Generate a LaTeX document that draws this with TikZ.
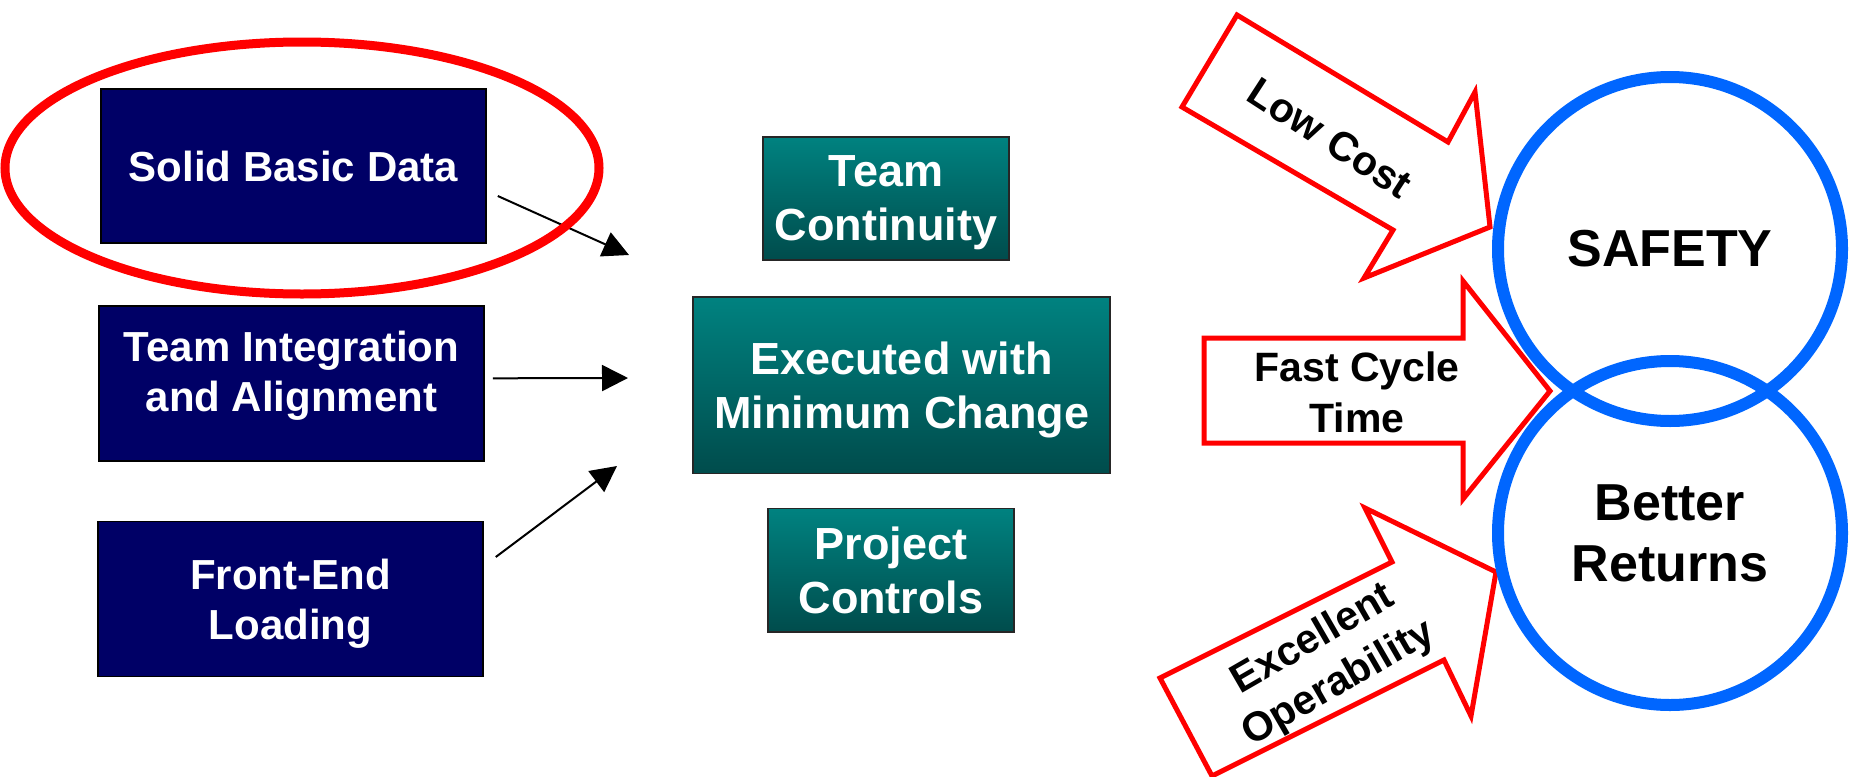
\documentclass[tikz,border=0pt]{standalone}
\usepackage{fontspec}
\setmainfont{Liberation Sans}
\usetikzlibrary{arrows.meta}
\definecolor{navybox}{RGB}{0,0,102}
\definecolor{tealtop}{RGB}{0,130,128}
\definecolor{tealbot}{RGB}{0,76,76}
\definecolor{arrowred}{RGB}{255,0,0}
\definecolor{ringblue}{RGB}{0,102,255}
\tikzset{
  navy/.style={rectangle, draw=black, line width=0.8pt, fill=navybox, text=white,
    font=\bfseries\fontsize{21}{25}\selectfont, align=center,
    minimum width=192.5pt, minimum height=77.5pt, inner sep=0pt},
  tealbox/.style={rectangle, draw=black!85, line width=0.8pt, top color=tealtop,
    bottom color=tealbot, text=white, font=\bfseries\fontsize{22.5}{26.8}\selectfont,
    align=center, inner sep=0pt, text depth=0pt},
  feed/.style={line width=1pt, -{Triangle[length=13pt,width=13pt]}},
  blockarrow/.style={draw=arrowred, line width=2.5pt, fill=white, line join=miter},
  arrowtext/.style={font=\bfseries\fontsize{20.5}{25.5}\selectfont, align=center, inner sep=0pt},
  ring/.style={circle, draw=ringblue, line width=6pt, minimum size=172pt, inner sep=0pt,
    font=\bfseries\fontsize{26}{30.5}\selectfont, align=center},
  highlight/.style={draw=arrowred, line width=4.5pt}
}
\begin{document}
\begin{tikzpicture}[x=0.5pt,y=-0.5pt]
\useasboundingbox (0,0) rectangle (1857,776);

% left column
\node[navy, minimum height=77pt] (b1) at (293.5,166) {Solid Basic Data};
\node[navy] (b2) at (291.5,383.3) {};
\node[text=white, font=\bfseries\fontsize{21}{25}\selectfont, align=center, inner sep=0pt]
  (b2t) at ([yshift=4pt]b2.center) {Team Integration\\and Alignment};
\node[navy, text depth=0pt] (b3) at (290.5,599) {Front-End\\Loading};

% middle column
\node[tealbox, minimum width=123pt, minimum height=61.6pt] (tc) at (886,198.3) {Team\\Continuity};
\node[tealbox, minimum width=208.5pt, minimum height=88.3pt] (ex) at (901.7,385) {Executed with\\Minimum Change};
\node[tealbox, minimum width=123pt, minimum height=61.7pt] (pc) at (891,570) {Project\\Controls};

% feed arrows
\coordinate (s1) at ([shift={(11,30)}]b1.east);
\coordinate (s2) at ([shift={(8,-5)}]b2.east);
\coordinate (s3) at ([shift={(12,-42)}]b3.east);
\coordinate (e1) at (629,255);
\coordinate (e2) at (628,378);
\coordinate (e3) at (617,466);
\draw[feed] (s1) -- (e1);
\draw[feed] (s2) -- (e2);
\draw[feed] (s3) -- (e3);

% red highlight ellipse
\draw[highlight] (302,168) ellipse [x radius=297, y radius=126];

% block arrows
\draw[blockarrow] (1237,15) -- (1448,142) -- (1475,92) -- (1490,227) -- (1364,278) -- (1393,230) -- (1182,107) -- cycle;
\node[arrowtext, rotate=-33] (lc) at (1330,138) {Low Cost};

\draw[blockarrow] (1204,338) -- (1463,338) -- (1463,281) -- (1550,391) -- (1463,499) -- (1463,443) -- (1204,443) -- cycle;
\node[arrowtext] (fc) at (1357,392) {Fast Cycle\\Time};

\draw[blockarrow] (1160,678) -- (1392,562) -- (1365,508) -- (1496,572) -- (1471,716) -- (1444,660) -- (1212,776) -- cycle;
\node[arrowtext, rotate=30] (eo) at (1326,662) {Excellent\\Operability};

% rings
\node[ring] (safety) at (1670,249) {SAFETY};
\node[ring] (returns) at (1670,533) {Better\\Returns};
\end{tikzpicture}
\end{document}
